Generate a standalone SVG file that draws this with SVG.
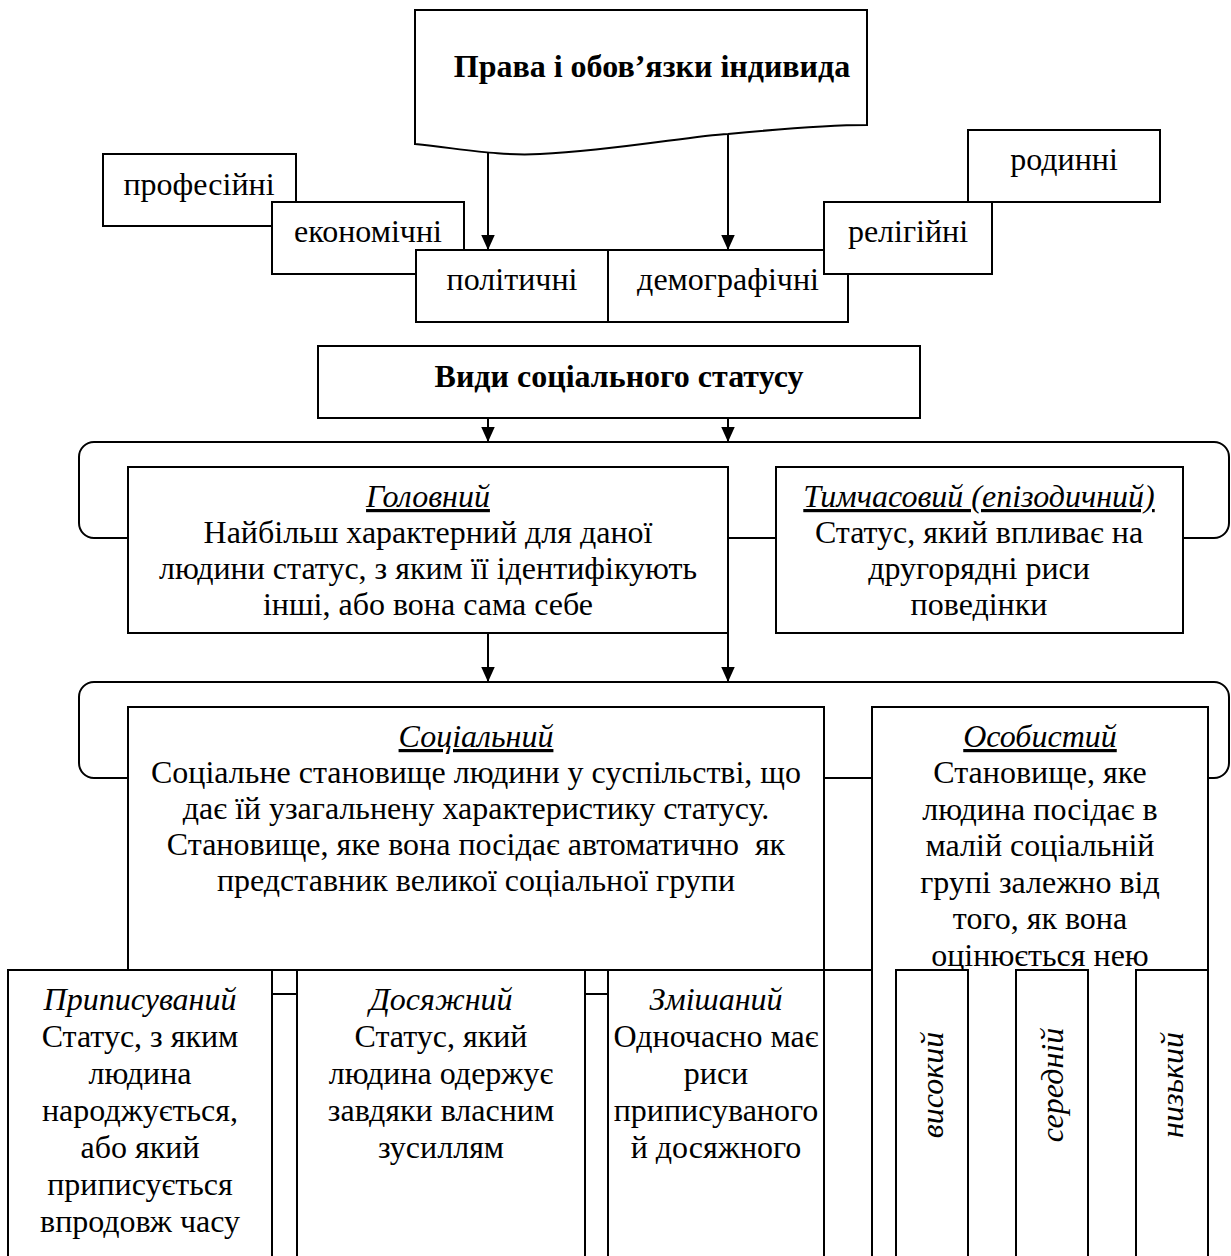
<svg xmlns="http://www.w3.org/2000/svg" width="1231" height="1256" viewBox="0 0 1231 1256">
<style>
.b{fill:#fff;stroke:#000;stroke-width:2}
.br{fill:none;stroke:#000;stroke-width:2}
.t{font-family:"Liberation Serif","Times New Roman",serif;font-size:32px;fill:#000;text-anchor:middle}
.bold{font-weight:bold}
.i{font-style:italic}
.u{text-decoration:underline}
.c{stroke:#000;stroke-width:2;fill:none}
</style>
<defs>
<marker id="ah" viewBox="0 0 10 10" refX="10" refY="5" markerWidth="15" markerHeight="15" markerUnits="userSpaceOnUse" orient="auto">
<path d="M0,0.5 L10,5 L0,9.5 Z" fill="#000"/>
</marker>
</defs>
<rect width="1231" height="1256" fill="#fff"/>

<g id="brackets">
<rect class="br" x="79" y="442" width="1150" height="96" rx="15"/>
<rect class="br" x="79" y="682" width="1150" height="96" rx="15"/>
</g>

<g id="connectors">
<line class="c" x1="488" y1="152" x2="488" y2="250" marker-end="url(#ah)"/>
<line class="c" x1="728" y1="134" x2="728" y2="250" marker-end="url(#ah)"/>
<line class="c" x1="488" y1="418" x2="488" y2="442" marker-end="url(#ah)"/>
<line class="c" x1="728" y1="418" x2="728" y2="442" marker-end="url(#ah)"/>
<line class="c" x1="488" y1="633" x2="488" y2="682" marker-end="url(#ah)"/>
<line class="c" x1="728" y1="633" x2="728" y2="682" marker-end="url(#ah)"/>
<line class="c" x1="272" y1="994" x2="297" y2="994"/>
<line class="c" x1="585" y1="994" x2="608" y2="994"/>
<line class="c" x1="824" y1="970" x2="872" y2="970"/>
<line class="c" x1="872" y1="994" x2="896" y2="994"/>
<line class="c" x1="968" y1="994" x2="1016" y2="994"/>
<line class="c" x1="1088" y1="994" x2="1136" y2="994"/>
</g>

<g id="n-title">
<path class="b" d="M415,144 C470,150 500,156 540,154 C620,150 690,136 728,134 C790,128 830,125 867,125 V10 H415 Z"/>
<text class="t bold" x="652" y="77">Права і обов’язки індивида</text>
</g>

<g id="n-prof">
<rect class="b" x="103" y="154" width="193" height="72"/>
<text class="t" x="199" y="195">професійні</text>
</g>
<g id="n-econ">
<rect class="b" x="272" y="202" width="192" height="72"/>
<text class="t" x="368" y="242">економічні</text>
</g>
<g id="n-polit">
<rect class="b" x="416" y="250" width="192" height="72"/>
<text class="t" x="512" y="290">політичні</text>
</g>
<g id="n-demo">
<rect class="b" x="608" y="250" width="240" height="72"/>
<text class="t" x="728" y="290">демографічні</text>
</g>
<g id="n-family">
<rect class="b" x="968" y="130" width="192" height="72"/>
<text class="t" x="1064" y="170">родинні</text>
</g>
<g id="n-relig">
<rect class="b" x="824" y="202" width="168" height="72"/>
<text class="t" x="908" y="242">релігійні</text>
</g>

<g id="n-types">
<rect class="b" x="318" y="346" width="602" height="72"/>
<text class="t bold" x="619" y="387">Види соціального статусу</text>
</g>

<g id="n-main">
<rect class="b" x="128" y="467" width="600" height="166"/>
<text class="t" x="428" y="507"><tspan class="i u">Головний</tspan></text>
<text class="t" x="428" y="543">Найбільш характерний для даної</text>
<text class="t" x="428" y="579">людини статус, з яким її ідентифікують</text>
<text class="t" x="428" y="615">інші, або вона сама себе</text>
</g>

<g id="n-temp">
<rect class="b" x="776" y="467" width="407" height="166"/>
<text class="t" x="979" y="507"><tspan class="i u">Тимчасовий (епізодичний)</tspan></text>
<text class="t" x="979" y="543">Статус, який впливає на</text>
<text class="t" x="979" y="579">другорядні риси</text>
<text class="t" x="979" y="615">поведінки</text>
</g>

<g id="n-social">
<rect class="b" x="128" y="707" width="696" height="263"/>
<text class="t" x="476" y="747"><tspan class="i u">Соціальний</tspan></text>
<text class="t" x="476" y="783">Соціальне становище людини у суспільстві, що</text>
<text class="t" x="476" y="819">дає їй узагальнену характеристику статусу.</text>
<text class="t" x="476" y="855" xml:space="preserve">Становище, яке вона посідає автоматично  як</text>
<text class="t" x="476" y="891">представник великої соціальної групи</text>
</g>

<g id="n-personal">
<rect class="b" x="872" y="707" width="336" height="580"/>
<text class="t" x="1040" y="747"><tspan class="i u">Особистий</tspan></text>
<text class="t" x="1040" y="783">Становище, яке</text>
<text class="t" x="1040" y="820">людина посідає в</text>
<text class="t" x="1040" y="856">малій соціальній</text>
<text class="t" x="1040" y="893">групі залежно від</text>
<text class="t" x="1040" y="929">того, як вона</text>
<text class="t" x="1040" y="966">оцінюється нею</text>
</g>

<g id="n-ascribed">
<rect class="b" x="8" y="970" width="264" height="320"/>
<text class="t i" x="140" y="1010">Приписуваний</text>
<text class="t" x="140" y="1047">Статус, з яким</text>
<text class="t" x="140" y="1084">людина</text>
<text class="t" x="140" y="1121">народжується,</text>
<text class="t" x="140" y="1158">або який</text>
<text class="t" x="140" y="1195">приписується</text>
<text class="t" x="140" y="1232">впродовж часу</text>
</g>

<g id="n-achieved">
<rect class="b" x="297" y="970" width="288" height="320"/>
<text class="t i" x="441" y="1010">Досяжний</text>
<text class="t" x="441" y="1047">Статус, який</text>
<text class="t" x="441" y="1084">людина одержує</text>
<text class="t" x="441" y="1121">завдяки власним</text>
<text class="t" x="441" y="1158">зусиллям</text>
</g>

<g id="n-mixed">
<rect class="b" x="608" y="970" width="216" height="320"/>
<text class="t i" x="716" y="1010">Змішаний</text>
<text class="t" x="716" y="1047">Одночасно має</text>
<text class="t" x="716" y="1084">риси</text>
<text class="t" x="716" y="1121">приписуваного</text>
<text class="t" x="716" y="1158">й досяжного</text>
</g>

<g id="n-high">
<rect class="b" x="896" y="970" width="72" height="320"/>
<text class="t i" transform="translate(943,1085) rotate(-90)" x="0" y="0">високий</text>
</g>
<g id="n-mid">
<rect class="b" x="1016" y="970" width="72" height="320"/>
<text class="t i" transform="translate(1063,1085) rotate(-90)" x="0" y="0">середній</text>
</g>
<g id="n-low">
<rect class="b" x="1136" y="970" width="72" height="320"/>
<text class="t i" transform="translate(1183,1085) rotate(-90)" x="0" y="0">низький</text>
</g>
</svg>
